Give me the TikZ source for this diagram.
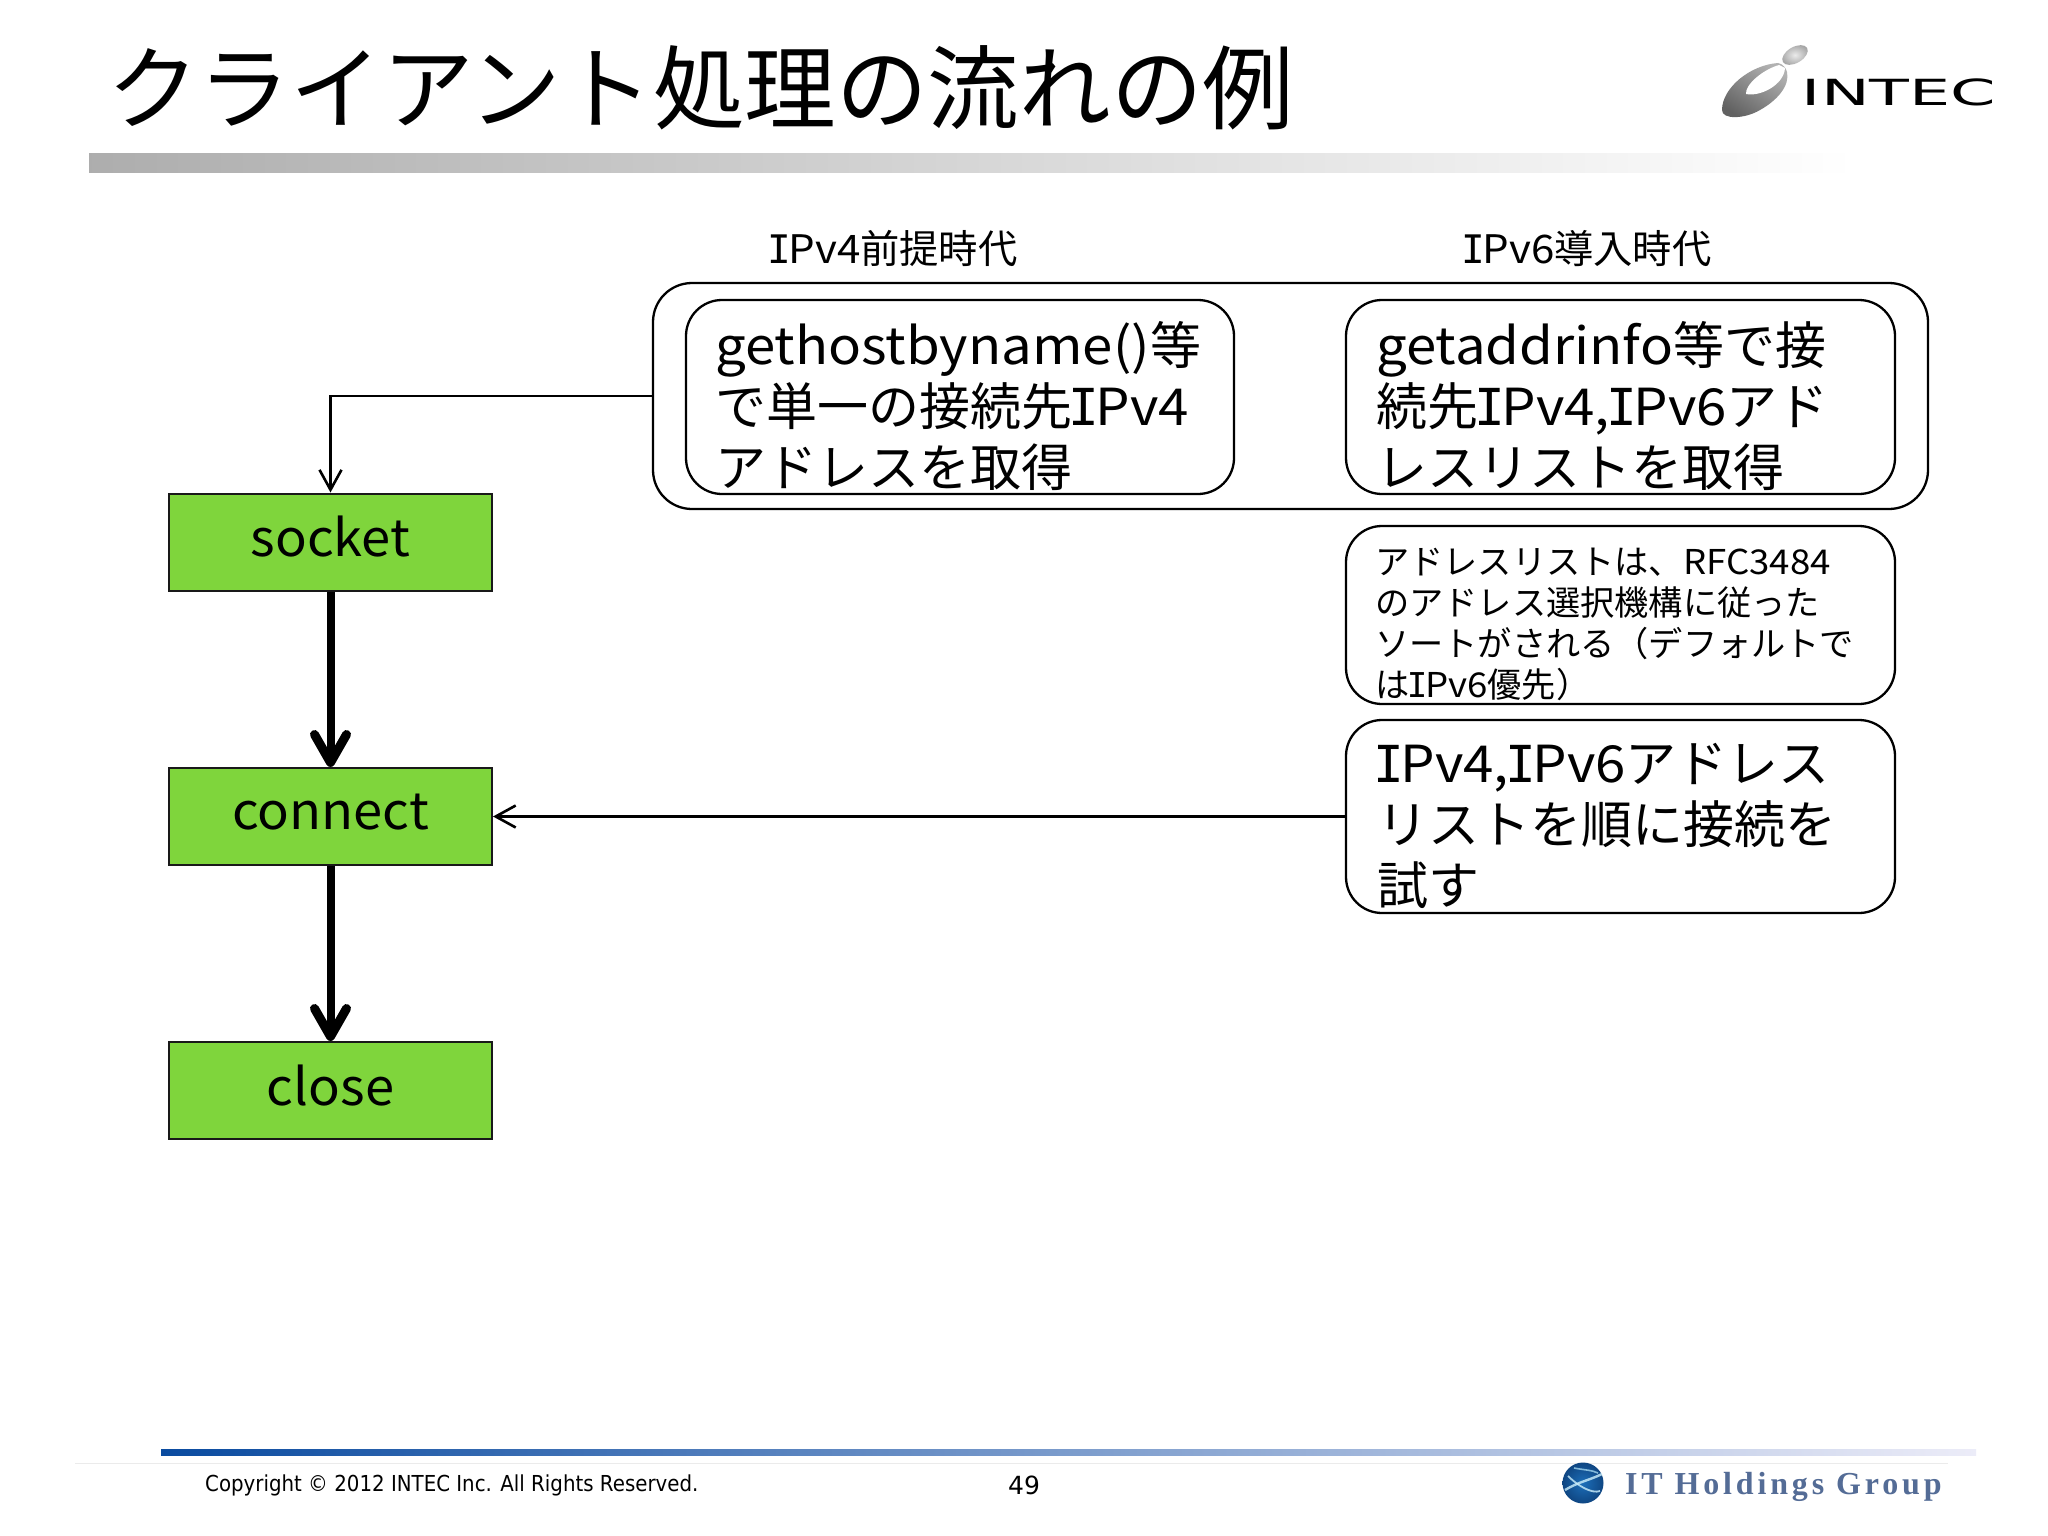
\documentclass[tikz,border=0pt]{standalone}
\usepackage{fontspec}
\usetikzlibrary{arrows.meta,positioning,calc}
\setmainfont{Noto Sans CJK JP}
\newfontfamily\lt{Noto Sans CJK JP}[FakeStretch=1.07]
\newfontfamily\ltb{Noto Sans CJK JP}[FakeStretch=1.03]
\newfontfamily\monoi{DejaVu Sans Mono}
\newfontfamily\footfont{DejaVu Sans}[FakeStretch=0.9]
\newfontfamily\pagefont{DejaVu Sans}
\newfontfamily\logofont{DejaVu Sans}
\newfontfamily\groupfont{Liberation Serif}[LetterSpace=12]
\newcommand{\capI}{\makebox[.46em][c]{\monoi I}}
\newcommand{\ipf}{{\capI\lt Pv4}}
\newcommand{\ips}{{\capI\lt Pv6}}
\definecolor{boxgreen}{RGB}{127,213,60}
\definecolor{groupblue}{RGB}{84,108,150}
\definecolor{barleft}{RGB}{10,75,160}
\definecolor{barmid}{RGB}{110,130,195}
\definecolor{barright}{RGB}{236,236,248}
\definecolor{globeblue}{RGB}{28,110,185}
\definecolor{globedark}{RGB}{15,70,130}
\tikzset{
  panel/.style={draw=black,line width=2.3pt,rounded corners=#1,fill=white,inner sep=0pt},
  panel/.default=36pt,
  stepbox/.style={draw=black!90,line width=2pt,fill=boxgreen,minimum width=323pt,minimum height=97pt,inner sep=0pt,
    font=\ltb\fontsize{51}{61}\selectfont},
  bigtext/.style={inner sep=0pt,anchor=west,align=left,font=\fontsize{51}{61}\selectfont},
  smalltext/.style={inner sep=0pt,anchor=west,align=left,font=\fontsize{34.2}{41}\selectfont},
  headtext/.style={inner sep=0pt,font=\fontsize{39.3}{46}\selectfont},
  thin arrow/.style={line width=2.6pt,-{Straight Barb[length=20pt,width=22pt]}},
  thick arrow/.style={line width=8pt,-{Straight Barb[round,length=28pt,width=32pt,line width=9pt]}},
}
\begin{document}
\begin{tikzpicture}[x=1pt,y=-1pt]
\useasboundingbox (0,0) rectangle (2048,1536);
\fill[white] (0,0) rectangle (2048,1536);
% title and header band
\node[inner sep=0pt,anchor=west,font=\fontsize{91.6}{100}\selectfont] (title) at (107,88) {クライアント処理の流れの例};
\shade[left color=black!32,right color=white] (89,154) rectangle (1855,172);
% INTEC logo
\shade[top color=black!30,bottom color=black!62,shading angle=-35]
  (1778,63) .. controls (1750,65) and (1722,88) .. (1722,110)
  .. controls (1722,120) and (1745,119) .. (1760,110)
  .. controls (1778,100) and (1790,85) .. (1787,72)
  .. controls (1786,68) and (1783,64) .. (1778,63) -- cycle;
\fill[white] (1779,65) .. controls (1762,70) and (1745,85) .. (1746,94)
  .. controls (1760,97) and (1784,85) .. (1785,68) -- cycle;
\shade[inner color=black!8,outer color=black!35,rotate around={30:(1795,55)}] (1795,55) ellipse (14 and 8);
\node[inner sep=0pt,font=\logofont\fontsize{36}{40}\selectfont] (intec) at (1899,92) {\scalebox{1.81}[1]{INTEC}};
% column heads
\node[headtext] (headfour) at (894,249) {\ipf 前提時代};
\node[headtext] (headsix) at (1588,249) {\ips 導入時代};
% panels
\node[panel=39pt,minimum width=1275pt,minimum height=226pt] (outer) at (1290.5,396) {};
\node[panel,minimum width=548pt,minimum height=194pt] (leftpanel) at (960,397) {};
\node[panel,minimum width=549pt,minimum height=194pt] (rightpanel) at (1620.5,397) {};
\node[panel,minimum width=549pt,minimum height=178pt] (notepanel) at (1620.5,615) {};
\node[panel,minimum width=549pt,minimum height=193pt] (trypanel) at (1620.5,816.5) {};
\node[bigtext] (lefttext) at (715,406) {{\lt gethostbyname()}等\\で単一の接続先\ipf\\アドレスを取得};
\node[bigtext] (righttext) at (1376,406) {{\lt getaddrinfo}等で接\\続先\ipf{\lt ,}\ips アド\\レスリストを取得};
\node[smalltext] (notetext) at (1375,624.5) {アドレスリストは、{\lt RFC3484}\\のアドレス選択機構に従った\\ソートがされる（デフォルトで\\は\ips 優先）};
\node[bigtext] (trytext) at (1377,826) {\ipf{\lt ,}\ips アドレス\\リストを順に接続を\\試す};
% steps
\node[stepbox] (socket) at (330.5,542) {\raisebox{11pt}{socket}};
\node[stepbox] (connect) at (330.5,816.5) {\raisebox{9pt}{connect}};
\node[stepbox] (close) at (330.5,1090.5) {\raisebox{11pt}{close}};
% connectors
\draw[thick arrow] (socket) -- (connect);
\draw[thick arrow] (connect) -- (close);
\draw[thin arrow] (outer.west) -| (socket.north);
\draw[thin arrow] (trypanel.west) -- (connect.east);
% footer
\shade[left color=barleft,middle color=barmid,right color=barright] (161,1449) rectangle (1976,1455);
\draw[black!8,line width=1pt] (75,1463) -- (1948,1463);
\node[inner sep=0pt,anchor=west,font=\footfont\fontsize{22}{26}\selectfont] (copy) at (205,1485) {Copyright © 2012 INTEC Inc. All Rights Reserved.};
\node[inner sep=0pt,font=\pagefont\fontsize{25}{30}\selectfont] (page) at (1024,1485) {49};
\shade[inner color=globeblue,outer color=globedark] (1583,1483) circle (20.5);
\draw[white!80!cyan,line width=2.4pt,opacity=.8] (1565,1490) .. controls (1578,1482) and (1590,1480) .. (1602,1474);
\draw[white!80!cyan,line width=1.8pt,opacity=.8] (1568,1476) .. controls (1578,1486) and (1592,1494) .. (1600,1491);
\draw[white!70!cyan,line width=1.6pt,opacity=.7] (1574,1468) .. controls (1584,1470) and (1592,1470) .. (1598,1473);
\node[inner sep=0pt,anchor=west,text=groupblue,font=\groupfont\bfseries\fontsize{32}{36}\selectfont] (group) at (1625,1487) {IT Holdings Group};
\end{tikzpicture}
\end{document}
